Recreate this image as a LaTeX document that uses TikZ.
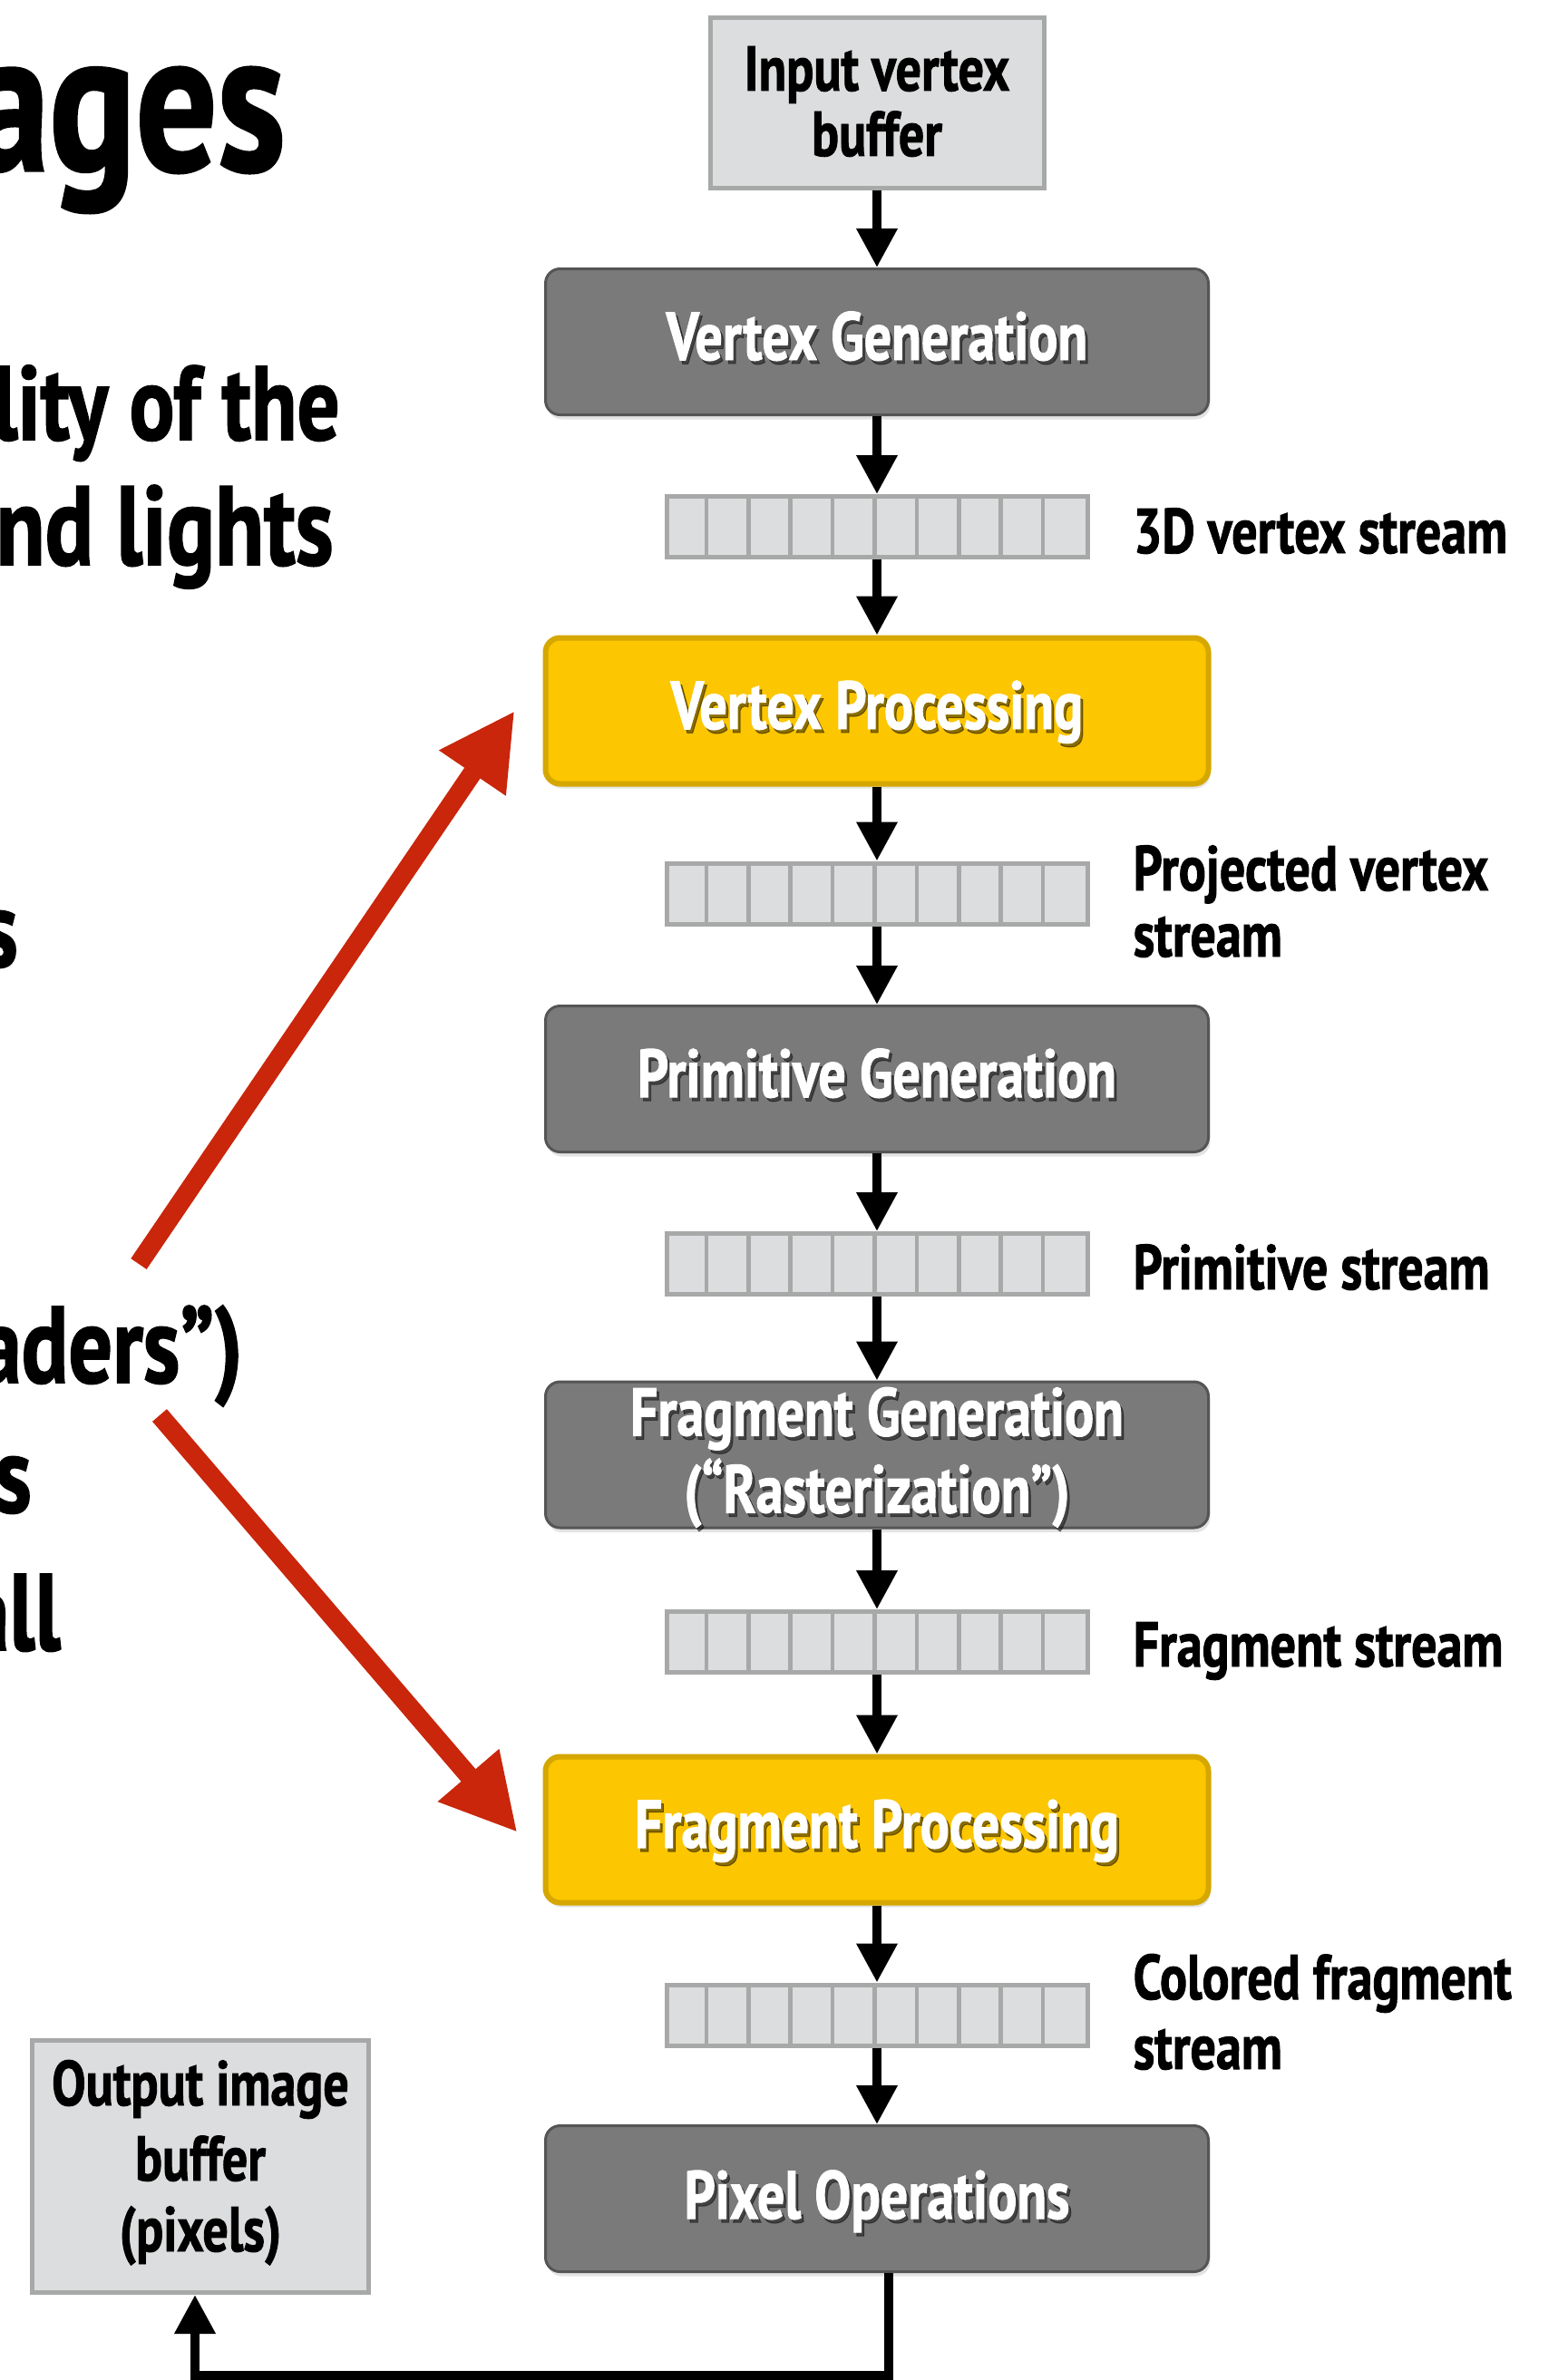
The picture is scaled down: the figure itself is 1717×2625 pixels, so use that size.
\documentclass[tikz,border=0pt]{standalone}
\usepackage{fontspec}
\setmainfont[FakeStretch=0.8, BoldFeatures={FakeBold=1.3}]{PT Sans}
\usetikzlibrary{arrows.meta,shadows,calc}
\definecolor{boxgray}{HTML}{7A7A7A}
\definecolor{boxgrayline}{HTML}{555555}
\definecolor{stageyellow}{HTML}{FCC600}
\definecolor{stageyellowline}{HTML}{D5A700}
\definecolor{buflight}{HTML}{DCDDDE}
\definecolor{bufline}{HTML}{A7A9A8}
\definecolor{pointred}{HTML}{C9260B}
\newcommand\stagelabel[4]{%
  \coordinate (#1) at ($(#2.center)+(0,#3)$);
  \node[stagetxt, text=black, text opacity=0.45] (#1sh) at ([xshift=3pt,yshift=-4pt]#1) {#4};
  \node[stagetxt] (#1tx) at (#1) {#4};}
\begin{document}
\begin{tikzpicture}[x=1pt,y=-1pt,
  stagebox/.style={draw=boxgrayline, line width=3pt, fill=boxgray, rounded corners=16pt,
    minimum width=731pt, minimum height=161pt, inner sep=0pt,
    drop shadow={shadow xshift=2pt, shadow yshift=-5pt, opacity=0.22}},
  yellowbox/.style={fill=stageyellow, draw=stageyellowline, line width=6pt},
  streambox/.style={draw=bufline, line width=5pt, fill=buflight, minimum width=464pt,
    minimum height=67pt, inner sep=0pt},
  cellsep/.style={draw=bufline, line width=4.5pt},
  bufbox/.style={draw=bufline, line width=5pt, fill=buflight, inner sep=0pt},
  flow/.style={line width=10pt, -{Triangle[length=43pt,width=43pt]}},
  redarrow/.style={draw=pointred, line width=21pt, -{Triangle[length=83pt,width=83pt]}},
  stagetxt/.style={anchor=base, inner sep=0pt, text=white,
    font=\bfseries\fontsize{75}{85}\selectfont},
  blacktxt/.style={inner sep=0pt, text=black, font=\bfseries\fontsize{70}{80}\selectfont},
  sidelabel/.style={blacktxt, anchor=base west},
  bufftxt/.style={blacktxt, anchor=base, font=\bfseries\fontsize{70}{80}\selectfont},
  titletxt/.style={anchor=base east, inner sep=0pt, font=\bfseries\fontsize{222}{260}\selectfont},
  bodytxt/.style={anchor=base east, inner sep=0pt, font=\bfseries\fontsize{120}{134}\selectfont},
  widebody/.style={font=\bfseries\fontsize{124}{138}\selectfont},
  narrowbody/.style={font=\bfseries\fontsize{116}{130}\selectfont}]
\useasboundingbox (0,0) rectangle (1717,2625);
\clip (0,0) rectangle (1717,2625);

% left slide text (cut off at the left edge)
\node[titletxt] (t1) at (315,188) {ages};
\node[bodytxt, narrowbody] (b1) at (375,485) {lity of the};
\node[bodytxt, widebody] (b2) at (368,623) {nd lights};
\node[bodytxt] (b3) at (20,1066) {s};
\node[bodytxt] (b4) at (268,1525) {aders”)};
\node[bodytxt] (b5) at (35,1668) {s};
\node[bodytxt] (b6) at (67,1820) {all};

% buffers
\node[bufbox, minimum width=368pt, minimum height=188pt] (in) at (967,113.5) {};
\node[bufftxt] (inl1) at ($(in.center)+(0,-13.5)$) {Input vertex};
\node[bufftxt] (inl2) at ($(in.center)+(0,58.5)$) {buffer};

\node[bufbox, minimum width=371pt, minimum height=278pt] (out) at (221,2389.5) {};
\node[bufftxt] (outl1) at ($(out.center)+(0,-67.5)$) {Output image};
\node[bufftxt] (outl2) at ($(out.center)+(0,15.5)$) {buffer};
\node[bufftxt] (outl3) at ($(out.center)+(0,93.5)$) {(pixels)};

% stages
\node[stagebox] (vg) at (967,377) {};
\node[stagebox, yellowbox] (vp) at (967,784) {};
\node[stagebox] (pg) at (967,1190) {};
\node[stagebox] (fg) at (967,1604.5) {};
\node[stagebox, yellowbox] (fp) at (967,2018) {};
\node[stagebox] (po) at (967,2425) {};

\stagelabel{vgt}{vg}{20}{Vertex Generation}
\stagelabel{vpt}{vp}{20}{Vertex Processing}
\stagelabel{pgt}{pg}{20}{Primitive Generation}
\stagelabel{fgta}{fg}{-21}{Fragment Generation}
\stagelabel{fgtb}{fg}{64}{(“Rasterization”)}
\stagelabel{fpt}{fp}{20}{Fragment Processing}
\stagelabel{pot}{po}{22}{Pixel Operations}

% streams
\node[streambox] (s1) at (967,581) {};
\node[streambox] (s2) at (967,985.5) {};
\node[streambox] (s3) at (967,1394) {};
\node[streambox] (s4) at (967,1811) {};
\node[streambox] (s5) at (967,2222.5) {};
\foreach \n in {s1,s2,s3,s4,s5}{
  \foreach \k in {1,...,9}{
    \draw[cellsep] ([xshift=\k*46.4pt]\n.north west) -- ([xshift=\k*46.4pt]\n.south west);
  }
}

% stream labels
\node[sidelabel] (s1l) at ($(s1.east)+(48,29)$) {3D vertex stream};
\node[sidelabel] (s2la) at ($(s2.east)+(48,-3.5)$) {Projected vertex};
\node[sidelabel] (s2lb) at ($(s2.east)+(48,69.5)$) {stream};
\node[sidelabel] (s3l) at ($(s3.east)+(48,28)$) {Primitive stream};
\node[sidelabel] (s4l) at ($(s4.east)+(48,27)$) {Fragment stream};
\node[sidelabel] (s5la) at ($(s5.east)+(48,-17.5)$) {Colored fragment};
\node[sidelabel] (s5lb) at ($(s5.east)+(48,59.5)$) {stream};

% flow arrows
\draw[flow] (in.south) -- (vg.north);
\draw[flow] (vg.south) -- (s1.north);
\draw[flow] (s1.south) -- (vp.north);
\draw[flow] (vp.south) -- (s2.north);
\draw[flow] (s2.south) -- (pg.north);
\draw[flow] (pg.south) -- (s3.north);
\draw[flow] (s3.south) -- (fg.north);
\draw[flow] (fg.south) -- (s4.north);
\draw[flow] (s4.south) -- (fp.north);
\draw[flow] (fp.south) -- (s5.north);
\draw[flow] (s5.south) -- (po.north);
\coordinate (loopc) at (600,2620);
\draw[flow] ([xshift=13pt]po.south) |- (loopc) -| ([xshift=-6pt]out.south);

% red pointers
\coordinate (r1s) at (153,1394);
\coordinate (r2s) at (176,1561);
\draw[redarrow] (r1s) -- ([xshift=-31pt]vp.west);
\draw[redarrow] (r2s) -- ([xshift=-28pt,yshift=-3pt]fp.west);
\end{tikzpicture}
\end{document}
